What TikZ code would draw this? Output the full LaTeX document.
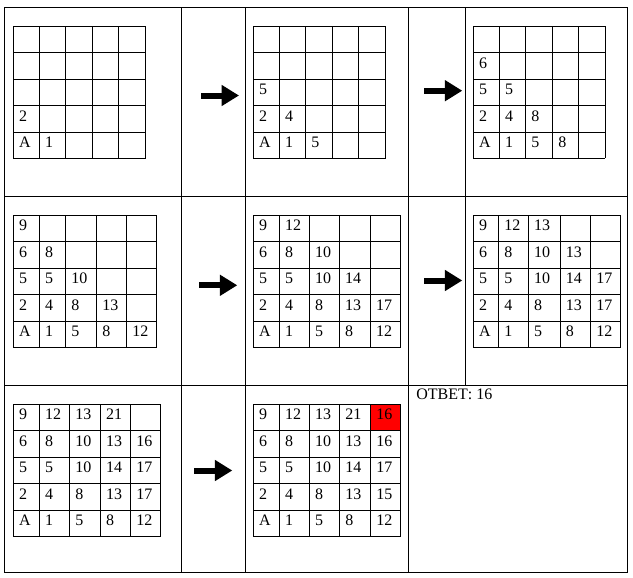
\documentclass[tikz,border=0pt]{standalone}
\usepackage{fontspec}
\setmainfont{Liberation Serif}
\usetikzlibrary{arrows.meta}

\tikzset{
  frame/.style={line width=0.75pt},
  gridline/.style={line width=0.75pt},
  val/.style={anchor=base west, inner sep=0pt, font=\fontsize{12pt}{14pt}\selectfont},
  bigarrow/.style={line width=4.5pt, -{Triangle[length=13pt,width=15pt]}},
  hot/.style={fill=red}
}

% #1 name, #2 column x's, #3 top y, #4 rows from the bottom up
\newcommand{\numgrid}[4]{%
  \pgfmathsetmacro\gl{{#2}[0]}%
  \pgfmathsetmacro\gr{{#2}[5]}%
  \foreach \gx in {#2} \draw[gridline] (\gx,#3) -- (\gx,#3+131.7);
  \foreach \gy in {0,26,53,79,105.7,131.7} \draw[gridline] (\gl,#3+\gy) -- (\gr,#3+\gy);
  \foreach \rowvals [count=\r from 0] in {#4} {
    \pgfmathsetmacro\by{#3+{121.2,95.2,68.5,42.5,15.5}[\r]}
    \foreach \v [count=\c from 0] in \rowvals {
      \pgfmathsetmacro\cx{{#2}[\c]+5.5}
      \node[val] (#1-\r-\c) at (\cx,\by) {\v};
    }
  }
}

\begin{document}
\begin{tikzpicture}[x=0.75pt,y=-0.75pt]
  \useasboundingbox (0,0) rectangle (633,578);

  % outer table
  \draw[frame] (4.3,7.3) rectangle (627,572.7);
  \draw[frame] (4.3,196.3) -- (627,196.3);
  \draw[frame] (4.3,385) -- (627,385);
  \draw[frame] (181.7,7.3) -- (181.7,572.7);
  \draw[frame] (245.7,7.3) -- (245.7,572.7);
  \draw[frame] (408.3,7.3) -- (408.3,572.7);
  \draw[frame] (465.7,7.3) -- (465.7,385);

  % first row
  \numgrid{ga}{13.3,39.3,65.7,92,118.7,145.7}{26.3}{{A,1},{2}}
  \numgrid{gb}{253.3,279.3,305.7,332.3,358.7,385.7}{26.3}{{A,1,5},{2,4},{5}}
  \numgrid{gc}{473.3,499.3,525.7,552.7,578.7,605.3}{26.3}{{A,1,5,8},{2,4,8},{5,5},{6}}

  % second row
  \numgrid{gd}{13.3,39.3,65.7,96.7,126.7,156.7}{215.3}{{A,1,5,8,12},{2,4,8,13},{5,5,10},{6,8},{9}}
  \numgrid{ge}{253.3,279.3,309.3,339.3,370.3,400.7}{215.3}{{A,1,5,8,12},{2,4,8,13,17},{5,5,10,14},{6,8,10},{9,12}}
  \numgrid{gf}{473.3,498.7,528.3,560,590.7,620.7}{215.3}{{A,1,5,8,12},{2,4,8,13,17},{5,5,10,14,17},{6,8,10,13},{9,12,13}}

  % third row
  \numgrid{gg}{13.3,39.3,69.7,100.3,130.7,160.7}{404.3}{{A,1,5,8,12},{2,4,8,13,17},{5,5,10,14,17},{6,8,10,13,16},{9,12,13,21}}
  \fill[hot] (370.7,404.3) rectangle (400.7,430.3);
  \numgrid{gh}{253.3,279.3,309.3,339.7,370.7,400.7}{404.3}{{A,1,5,8,12},{2,4,8,13,15},{5,5,10,14,17},{6,8,10,13,16},{9,12,13,21,16}}

  \node[val] (answer) at (416,399.5) {ОТВЕТ: 16};

  % arrows
  \coordinate (a1s) at (201,95.5);   \coordinate (a1e) at (239,95.5);
  \coordinate (a2s) at (424,90.7);   \coordinate (a2e) at (462.3,90.7);
  \coordinate (a3s) at (199,285.3);  \coordinate (a3e) at (237.3,285.3);
  \coordinate (a4s) at (424,280.5);  \coordinate (a4e) at (462.3,280.5);
  \coordinate (a5s) at (194,470.5);  \coordinate (a5e) at (232.3,470.5);
  \draw[bigarrow] (a1s) -- (a1e);
  \draw[bigarrow] (a2s) -- (a2e);
  \draw[bigarrow] (a3s) -- (a3e);
  \draw[bigarrow] (a4s) -- (a4e);
  \draw[bigarrow] (a5s) -- (a5e);
\end{tikzpicture}
\end{document}
